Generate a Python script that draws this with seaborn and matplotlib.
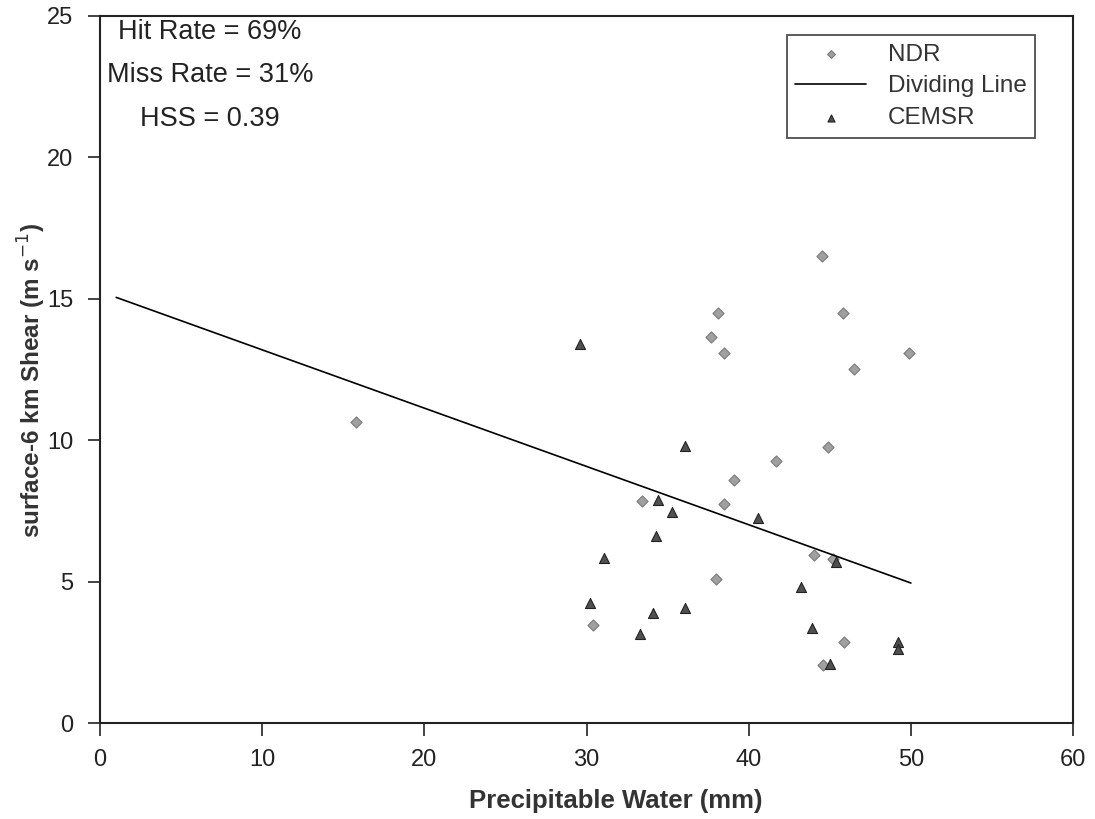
#!/usr/bin/env python3
# plot: shear vs precipitable water, NDR vs CEMSR

import matplotlib
matplotlib.use('Agg')
import matplotlib.pyplot as plt
import pandas as pd
import seaborn as sns

# Data -------------------------------------------------------------------------

ndr_pw = [15.8, 44.5, 38.1, 37.7, 38.5, 45.8, 49.9, 46.5, 44.9, 41.7, 39.1,
          33.4, 38.5, 38.0, 44.0, 45.2, 30.4, 45.9, 44.6]
ndr_shear = [10.65, 16.5, 14.5, 13.65, 13.1, 14.5, 13.1, 12.5, 9.75, 9.25, 8.6,
             7.85, 7.75, 5.1, 5.95, 5.8, 3.45, 2.85, 2.05]

cemsr_pw = [29.6, 36.1, 34.4, 35.3, 34.3, 40.6, 31.1, 45.4, 43.2, 30.2, 36.1,
            34.1, 43.9, 33.3, 45.0, 49.2, 49.2]
cemsr_shear = [13.4, 9.8, 7.9, 7.45, 6.6, 7.25, 5.85, 5.7, 4.8, 4.25, 4.05,
               3.9, 3.35, 3.15, 2.1, 2.85, 2.6]

line_pw = [1.0, 50.0]
line_shear = [15.05, 4.95]

stats = ['Hit Rate = 69%', 'Miss Rate = 31%', 'HSS = 0.39']


def main():
    sns.set_theme(style='ticks')
    plt.rcParams['font.family'] = ['Liberation Sans', 'DejaVu Sans']

    ndr = pd.DataFrame({'pw': ndr_pw, 'shear': ndr_shear})
    cemsr = pd.DataFrame({'pw': cemsr_pw, 'shear': cemsr_shear})
    line = pd.DataFrame({'pw': line_pw, 'shear': line_shear})

    fig = plt.figure(figsize=(10.95, 8.19), dpi=100)
    ax = fig.add_axes([0.0913, 0.1172, 0.8887, 0.8633])

    sns.scatterplot(data=ndr, x='pw', y='shear', ax=ax, marker='D', s=32,
                    color='#a0a0a0', edgecolor='#7a7a7a', linewidth=0.8,
                    label='NDR')
    sns.lineplot(data=line, x='pw', y='shear', ax=ax, color='black',
                 linewidth=1.2, label='Dividing Line')
    sns.scatterplot(data=cemsr, x='pw', y='shear', ax=ax, marker='^', s=52,
                    color='#505050', edgecolor='#222222', linewidth=0.8,
                    label='CEMSR')

    ax.set_xlim(0, 60)
    ax.set_ylim(0, 25)
    ax.set_xticks(range(0, 61, 10))
    ax.set_yticks(range(0, 26, 5))
    ax.tick_params(direction='out', length=9, width=1.2, labelsize=17,
                   colors='#222222', pad=10)
    for side in ax.spines.values():
        side.set_visible(True)
        side.set_linewidth(1.5)
        side.set_color('#222222')

    ax.set_xlabel('Precipitable Water (mm)', fontsize=18.5, fontweight='bold',
                  color='#333333')
    ax.set_ylabel('surface-6 km Shear (m s$^{-1}$)', fontsize=17.5,
                  fontweight='bold', color='#333333')
    ax.xaxis.set_label_coords(0.530, -0.093)
    ax.yaxis.set_label_coords(-0.053, 0.484)

    for i, txt in enumerate(stats):
        ax.text(0.113, 0.978 - i * 0.062, txt, transform=ax.transAxes,
                ha='center', va='center', fontsize=19.5, color='#222222')

    handles, labels = ax.get_legend_handles_labels()
    order = [labels.index(k) for k in ('NDR', 'Dividing Line', 'CEMSR')]
    leg = ax.legend([handles[i] for i in order], [labels[i] for i in order],
                    loc='upper right', bbox_to_anchor=(0.961, 0.973),
                    borderaxespad=0, fontsize=17.5, frameon=True,
                    fancybox=False, edgecolor='#222222', handlelength=2.9,
                    handletextpad=0.9, labelspacing=0.4, borderpad=0.35,
                    markerscale=0.7)
    leg.get_frame().set_linewidth(1.3)
    for t in leg.get_texts():
        t.set_color('#333333')

    fig.savefig('out.png', dpi=100)


if __name__ == '__main__':
    main()
